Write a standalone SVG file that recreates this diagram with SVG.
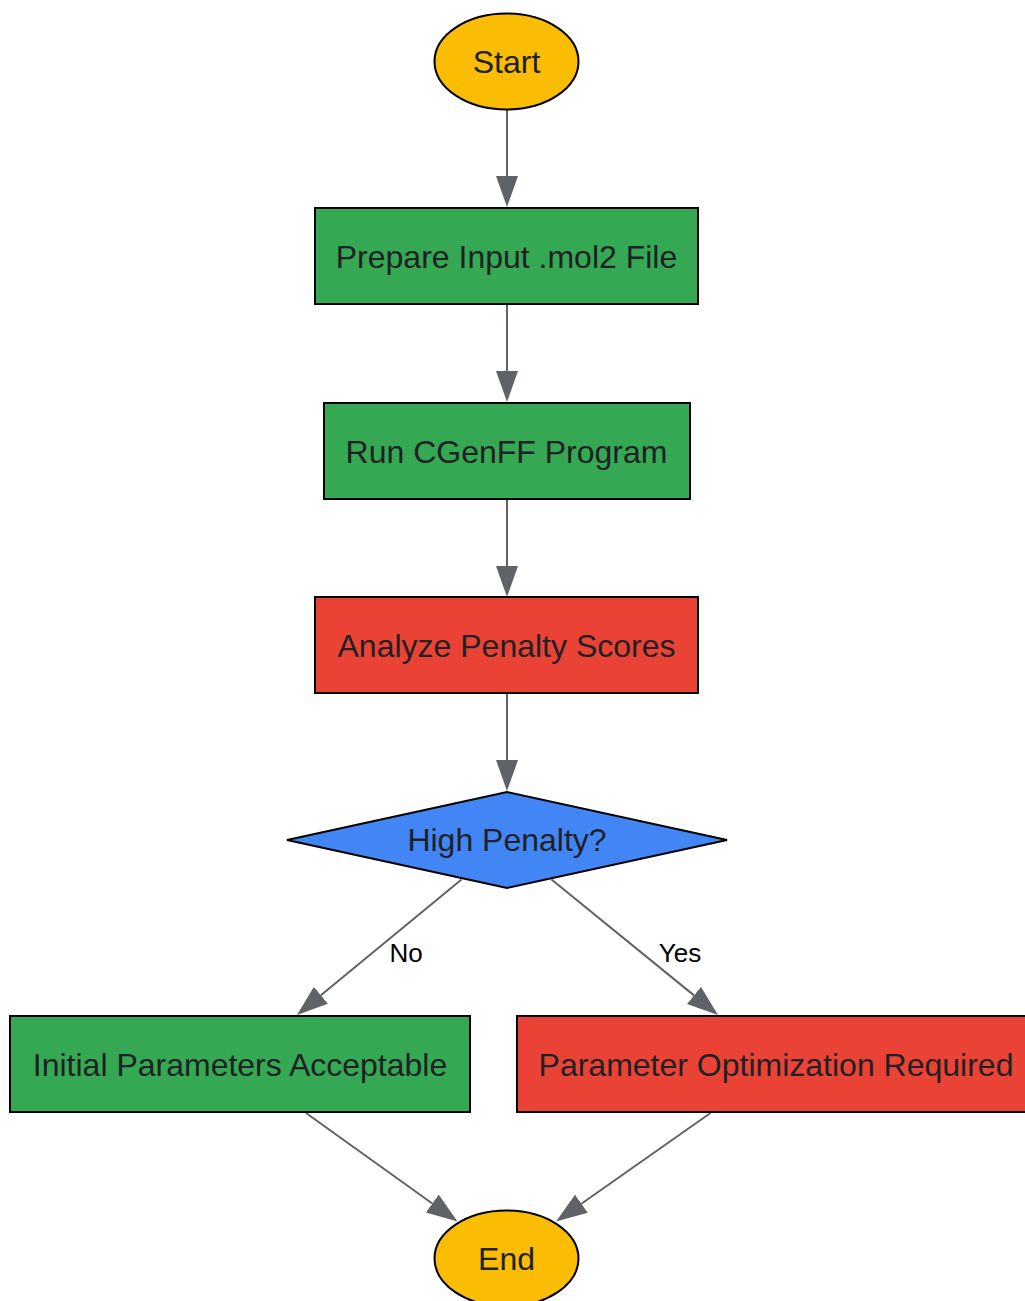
<svg xmlns="http://www.w3.org/2000/svg" width="1025" height="1301" viewBox="0 0 1025 1301">
<style>
.node{stroke:#000;stroke-width:2}
.t{font-family:"Liberation Sans",Arial,sans-serif;font-size:32px;fill:#202124;text-anchor:middle}
.el{font-family:"Liberation Sans",Arial,sans-serif;font-size:26px;fill:#000;text-anchor:middle}
.e{stroke:#5f6368;stroke-width:2;fill:none;marker-end:url(#ah)}
</style>
<defs>
<marker id="ah" viewBox="0 0 31 22" refX="0" refY="11" markerWidth="31" markerHeight="22" markerUnits="userSpaceOnUse" orient="auto">
<path d="M0,0 L31,11 L0,22 Z" fill="#5f6368"/>
</marker>
</defs>
<rect width="1025" height="1301" fill="#fff"/>
<g id="connectors">
<line class="e" x1="507" y1="110" x2="507" y2="176"/>
<line class="e" x1="507" y1="304" x2="507" y2="371"/>
<line class="e" x1="507" y1="499" x2="507" y2="566"/>
<line class="e" x1="507" y1="693" x2="507" y2="760"/>
<line class="e" x1="461.5" y1="879.5" x2="320.9" y2="995.3"/>
<line class="e" x1="551.5" y1="879.5" x2="694" y2="995.4"/>
<line class="e" x1="306" y1="1113" x2="432.3" y2="1203.5"/>
<line class="e" x1="710.5" y1="1113" x2="581.4" y2="1203.7"/>
<text class="el" x="406" y="962">No</text>
<text class="el" x="680" y="962">Yes</text>
</g>
<g id="start">
<ellipse class="node" cx="506.5" cy="61.5" rx="72" ry="48" fill="#fbbc04"/>
<text class="t" x="506.5" y="73">Start</text>
</g>
<g id="prepare">
<rect class="node" x="315" y="208" width="383" height="96" fill="#34a853"/>
<text class="t" x="506.5" y="268">Prepare Input .mol2 File</text>
</g>
<g id="run">
<rect class="node" x="324" y="403" width="366" height="96" fill="#34a853"/>
<text class="t" x="506.5" y="463">Run CGenFF Program</text>
</g>
<g id="analyze">
<rect class="node" x="315" y="597" width="383" height="96" fill="#ea4335"/>
<text class="t" x="506.5" y="657">Analyze Penalty Scores</text>
</g>
<g id="decision">
<polygon class="node" points="507,792 727,840 507,888 287,840" fill="#4285f4"/>
<text class="t" x="507" y="851">High Penalty?</text>
</g>
<g id="acceptable">
<rect class="node" x="10" y="1016" width="460" height="96" fill="#34a853"/>
<text class="t" x="240" y="1076">Initial Parameters Acceptable</text>
</g>
<g id="optimization">
<rect class="node" x="517" y="1016" width="518" height="96" fill="#ea4335"/>
<text class="t" x="776" y="1076">Parameter Optimization Required</text>
</g>
<g id="end">
<ellipse class="node" cx="506.5" cy="1258.5" rx="72" ry="48" fill="#fbbc04"/>
<text class="t" x="506.5" y="1270">End</text>
</g>
</svg>
